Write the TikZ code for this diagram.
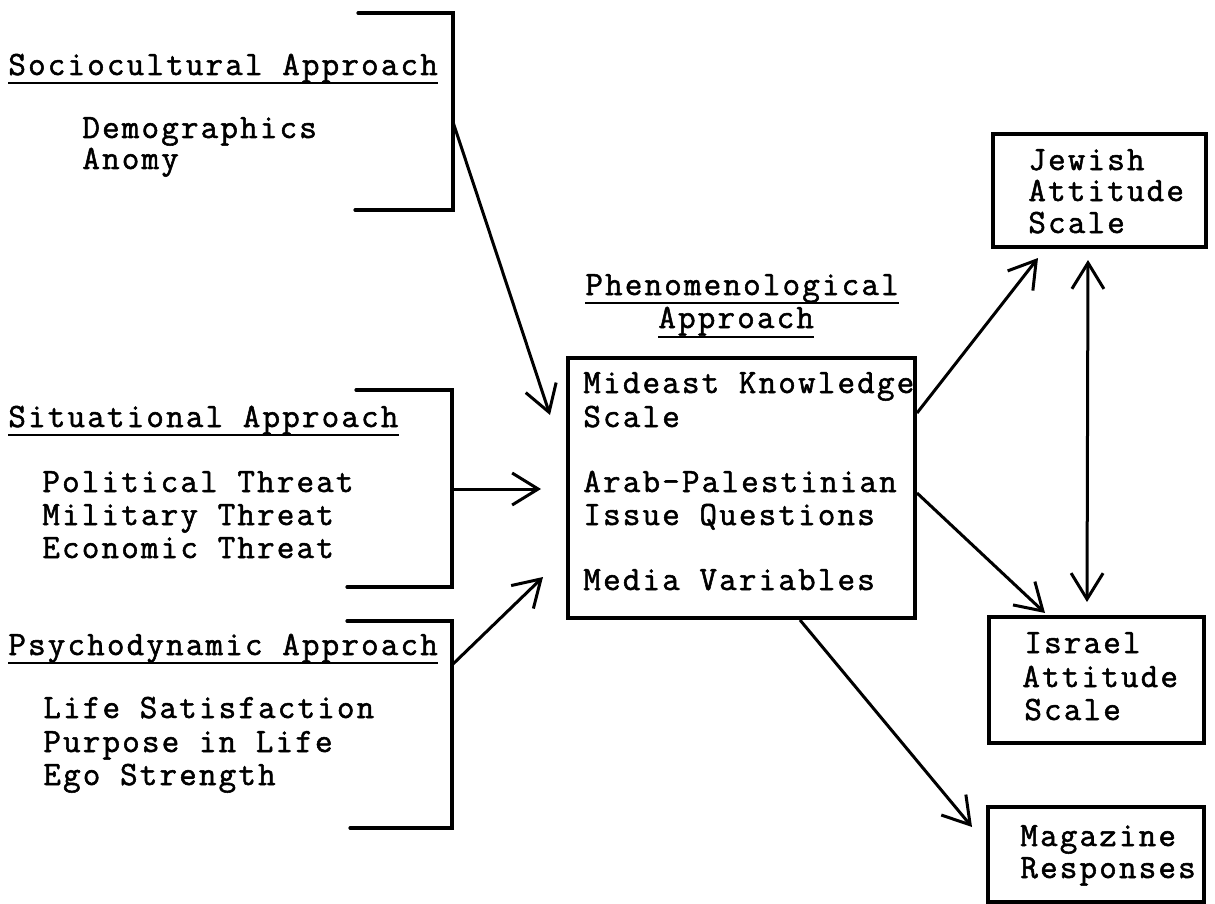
\documentclass[tikz,border=0pt]{standalone}
\usepackage{fontspec}
\newfontfamily\twfont{Latin Modern Mono}[FakeBold=1.6,LetterSpace=6.5]
\usetikzlibrary{arrows.meta,calc,fit}
\begin{document}
\begin{tikzpicture}[x=0.5pt,y=-0.5pt,
  txt/.style={font=\twfont\fontsize{17pt}{18pt}\selectfont, inner sep=0pt, anchor=base west},
  ln/.style={line width=1.6pt, line cap=round, line join=miter},
  ul/.style={line width=1.3pt},
  boxst/.style={draw, line width=1.6pt, inner sep=0pt},
  arr/.style={line width=1.5pt, -{Straight Barb[length=13pt,width=16pt]}},
  darr/.style={line width=1.5pt, {Straight Barb[length=13pt,width=16pt]}-{Straight Barb[length=13pt,width=16pt]}}
  ]
\useasboundingbox (0,0) rectangle (1215,904);

% Sociocultural
\node[txt] (soc) at (8,75) {Sociocultural Approach};
\draw[ul] ($(soc.base west)+(0,8)$) -- ($(soc.base east)+(0,8)$);
\node[txt] (soc1) at (82,138) {Demographics};
\node[txt] (soc2) at (82,169) {Anomy};
\coordinate (sa) at (358,13);
\coordinate (sb) at (453,13);
\coordinate (sc) at (453,210);
\coordinate (sd) at (355,210);
\draw[ln] (sa) -- (sb) -- (sc) -- (sd);
\coordinate (socout) at (453,122);

% Situational
\node[txt] (sit) at (8,427) {Situational Approach};
\draw[ul] ($(sit.base west)+(0,8)$) -- ($(sit.base east)+(0,8)$);
\node[txt] (sit1) at (42,492) {Political Threat};
\node[txt] (sit2) at (42,525) {Military Threat};
\node[txt] (sit3) at (42,558) {Economic Threat};
\coordinate (ta) at (356,390);
\coordinate (tb) at (452,390);
\coordinate (tc) at (452,587);
\coordinate (td) at (347,587);
\draw[ln] (ta) -- (tb) -- (tc) -- (td);
\coordinate (sitout) at (452,489);

% Psychodynamic
\node[txt] (psy) at (8,655) {Psychodynamic Approach};
\draw[ul] ($(psy.base west)+(0,8)$) -- ($(psy.base east)+(0,8)$);
\node[txt] (psy1) at (43,718) {Life Satisfaction};
\node[txt] (psy2) at (43,752) {Purpose in Life};
\node[txt] (psy3) at (43,785) {Ego Strength};
\coordinate (pa) at (347,621);
\coordinate (pb) at (452,621);
\coordinate (pc) at (452,828);
\coordinate (pd) at (350,828);
\draw[ln] (pa) -- (pb) -- (pc) -- (pd);
\coordinate (psyout) at (452,665);

% Phenomenological
\node[txt] (phe) at (585,295) {Phenomenological};
\draw[ul] ($(phe.base west)+(0,8)$) -- ($(phe.base east)+(0,8)$);
\node[txt] (phe2) at (658,328) {Approach};
\draw[ul] ($(phe2.base west)+(0,9)$) -- ($(phe2.base east)+(0,9)$);
\coordinate (m1) at (568,358);
\coordinate (m2) at (915,618);
\node[boxst, fit=(m1)(m2)] (mbox) {};
\node[txt] (mb1) at (583,393) {Mideast Knowledge};
\node[txt] (mb2) at (583,427) {Scale};
\node[txt] (mb3) at (583,492) {Arab-Palestinian};
\node[txt] (mb4) at (583,525) {Issue Questions};
\node[txt] (mb5) at (583,590) {Media Variables};

% Jewish
\coordinate (j1) at (993,134);
\coordinate (j2) at (1206,247);
\node[boxst, fit=(j1)(j2)] (jbox) {};
\node[txt] (jt1) at (1028,170) {Jewish};
\node[txt] (jt2) at (1028,201) {Attitude};
\node[txt] (jt3) at (1028,233) {Scale};

% Israel
\coordinate (i1) at (989,617);
\coordinate (i2) at (1204,743);
\node[boxst, fit=(i1)(i2)] (ibox) {};
\node[txt] (it1) at (1024,653) {Israel};
\node[txt] (it2) at (1022,687) {Attitude};
\node[txt] (it3) at (1024,720) {Scale};

% Magazine
\coordinate (g1) at (988,807);
\coordinate (g2) at (1204,902);
\node[boxst, fit=(g1)(g2)] (gbox) {};
\node[txt] (gt1) at (1020,846) {Magazine};
\node[txt] (gt2) at (1020,878) {Responses};

% arrow end points
\coordinate (socin) at (550,415);
\coordinate (sitin) at (541,489);
\coordinate (psyin) at (543,577);
\coordinate (mj) at (917,413);
\coordinate (mi) at (917,493);
\coordinate (mg) at (800,620);
\coordinate (jin) at (1038,258);
\coordinate (iin) at (1045,613);
\coordinate (gin) at (972,827);
\coordinate (dtop) at (1088,260);
\coordinate (dbot) at (1087,602);

\draw[arr] (socout) -- (socin);
\draw[arr] (sitout) -- (sitin);
\draw[arr] (psyout) -- (psyin);
\draw[arr] (mj) -- (jin);
\draw[arr] (mi) -- (iin);
\draw[arr] (mg) -- (gin);
\draw[darr] (dtop) -- (dbot);
\end{tikzpicture}
\end{document}
